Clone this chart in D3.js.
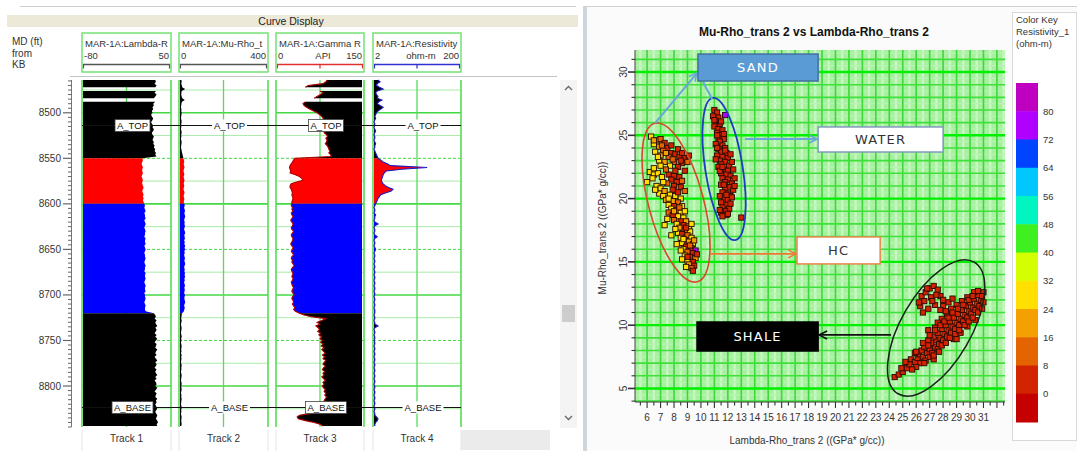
<!DOCTYPE html>
<html>
<head>
<meta charset="utf-8">
<script src="https://cdn.jsdelivr.net/npm/d3@7"></script>
<style>
  body { margin: 0; background: #fff; }
  svg { display: block; font-family: "Liberation Sans", Arial, sans-serif; }
</style>
</head>
<body>
<svg id="chart" width="1077" height="451"></svg>
<script>
// ---------------- Well log data (MAR-1A), sampled every 2 ft from 8464 ft ----------------
const depthTop = 8464;
const depthStep = 2;

// Facies intervals (ft): shale / HC sand / water sand / shale
const zoneTops = [8464, 8550, 8600, 8720, 8846];
const zoneNames = ["Shale", "HC", "Water", "Shale"];

// Lambda-Rho
const lambdaRho = [
  27,28,26,29,27,null,28,26,29,27,25,null,27,24,25,23,24,22,23,21,22,24,23,21,22,24,23,25,24,22,23,25,24,23,25,24,26,25,27,26,28,27,29,
  8,9,8,7,8,9,8,8,9,8,7,8,9,8,8,9,10,9,8,9,10,9,10,9,10,
  11,12,11,12,13,11,12,12,13,11,12,13,12,11,12,13,12,12,11,13,12,12,13,11,12,13,12,11,12,12,
  13,12,11,12,13,12,12,11,13,12,12,13,12,11,12,13,12,12,13,11,12,12,13,12,11,12,13,12,12,13,
  25,27,28,26,29,27,28,30,27,29,28,26,29,27,30,28,26,29,28,27,30,28,27,29,26,28,30,27,29,28,
  26,29,27,28,30,27,29,26,28,29,27,30,28,26,29,28,27,30,28,29,27,28,30,29,27,28,30,29,28,30,31,29,30
];

// Mu-Rho
const muRho = [
  11,12,10,13,14,28,12,11,10,12,15,26,13,11,10,9,11,10,12,11,10,9,11,12,10,11,10,9,11,12,10,11,9,10,12,11,10,9,11,12,14,16,18,
  20,22,24,21,23,25,22,20,23,24,21,22,25,23,21,24,22,20,23,25,22,21,24,23,21,
  24,26,23,25,27,24,26,28,25,23,26,24,27,25,23,26,28,24,25,27,23,26,24,28,25,27,24,26,23,25,
  27,24,26,28,25,23,26,24,27,25,28,24,26,23,25,27,24,26,25,23,27,25,24,26,28,25,23,26,24,22,
  14,12,11,10,12,11,9,10,12,11,10,9,11,12,10,11,9,10,12,11,10,11,9,12,10,11,10,9,11,12,
  10,11,9,10,12,11,10,9,11,12,10,11,12,10,9,11,10,12,11,10,9,11,12,10,11,9,10,12,11,10,11,12,10
];

// Gamma Ray (API)
const gammaRay = [
  87,85,80,55,50,null,75,80,76,70,65,null,50,46,48,52,58,64,70,74,78,
  80,82,84,85,86,84,85,83,82,86,88,85,87,86,84,87,89,90,92,90,93,94,
  32,30,28,26,24,23,24,25,24,33,40,44,46,35,26,24,24,26,27,28,27,28,29,28,27,
  27,26,28,27,29,26,27,29,27,25,27,29,28,26,27,30,28,26,27,29,28,27,25,27,29,28,26,28,30,27,
  26,28,27,29,31,28,26,27,29,28,27,29,28,26,27,28,30,28,27,29,31,28,27,29,30,28,30,32,30,33,
  40,48,60,85,78,70,75,68,72,74,71,76,73,78,75,79,76,80,77,82,78,81,84,79,83,80,85,82,80,84,
  81,79,83,80,82,78,81,84,80,82,79,81,84,82,85,83,86,84,82,84,
  83,82,84,82,80,60,40,36,38,50,65,75,80
];

// Resistivity (ohm-m)
const resistivity = [
  2.6,2.9,2.5,2.4,2.8,3.4,2.5,2.3,2.4,2.6,2.5,3.2,2.7,2.5,2.9,3.4,3.0,2.6,2.4,2.3,
  2.2,2.3,2.2,2.1,2.2,2.2,2.1,2.2,2.3,2.2,2.1,2.2,2.2,2.1,2.2,2.3,2.2,2.2,2.1,2.2,2.3,2.4,2.5,
  2.6,3.0,3.4,4.2,5.0,34,9,4.0,3.6,3.4,3.3,3.2,3.1,3.2,3.4,3.8,4.5,5.7,5.2,3.8,3.0,2.8,2.6,2.5,2.4,
  2.3,2.2,2.1,2.2,2.2,2.1,2.3,2.2,2.2,2.1,2.2,2.6,2.2,2.1,2.2,2.2,2.1,2.2,2.5,2.2,
  2.1,2.2,2.2,2.1,2.2,2.3,2.2,2.1,2.2,2.2,2.1,2.2,2.2,2.1,2.2,2.2,2.1,2.2,2.2,2.1,
  2.2,2.2,2.1,2.2,2.2,2.1,2.2,2.2,2.1,2.2,2.2,2.1,2.2,2.2,2.1,2.2,2.2,2.1,2.2,2.2,
  2.2,2.1,2.2,2.2,2.1,2.2,2.2,2.6,2.2,2.1,2.2,2.2,2.1,2.2,2.2,2.1,2.2,2.2,2.1,2.2,
  2.2,2.1,2.2,2.2,2.1,2.2,2.2,2.1,2.2,2.2,2.1,2.2,2.2,2.1,2.2,2.2,2.1,2.2,2.2,2.1,
  2.2,2.2,2.1,2.2,2.2,2.1,2.2,2.2,2.1,2.2,2.2,2.1,2.2,2.2,2.1,2.2,2.2,2.4,2.6,2.5,2.3,2.2,2.2
];

// Formation tops
const topNames = ["A_TOP", "A_BASE"];
const topDepths = [8513, 8823];

// Depth axis labels
const depthLabels = [8500, 8550, 8600, 8650, 8700, 8750, 8800];

// Track headers
const trackNames = ["Track 1", "Track 2", "Track 3", "Track 4"];
const curveTitles = ["MAR-1A:Lambda-R", "MAR-1A:Mu-Rho_t", "MAR-1A:Gamma R", "MAR-1A:Resistivity"];
const curveMin = [-80, 0, 0, 2];
const curveMax = [50, 400, 150, 200];
const curveUnits = ["", "", "API", "ohm-m"];

// ---------------- Crossplot data: [Lambda-Rho, Mu-Rho, Resistivity_1] ----------------
const waterPoints = [
  [11.0,27.0,4],[11.2,26.8,5],[10.9,26.5,3],[11.3,26.4,6],[11.1,26.1,4],[11.8,26.6,76],[11.4,25.9,5],[11.0,25.7,3],
  [11.3,25.5,4],[11.6,25.4,6],[11.2,25.2,5],[11.5,25.0,3],[11.3,24.8,4],[11.7,24.7,5],[11.4,24.5,6],[11.1,24.3,4],
  [11.6,24.2,3],[11.8,24.0,5],[11.3,23.9,4],[11.5,23.7,6],[11.9,23.6,4],[11.2,23.4,5],[11.6,23.3,3],[12.0,23.2,4],
  [11.4,23.0,5],[11.8,22.9,6],[11.5,22.7,4],[12.1,22.6,3],[11.3,22.5,5],[11.7,22.3,4],[12.0,22.2,6],[11.5,22.0,5],
  [11.9,21.9,4],[12.2,21.8,3],[11.6,21.6,5],[12.0,21.5,4],[11.8,21.3,6],[12.3,21.2,4],[11.5,21.1,5],[12.1,20.9,3],
  [11.8,20.8,5],[12.4,20.7,4],[11.6,20.5,6],[12.0,20.4,4],[12.2,20.2,5],[11.7,20.0,3],[12.0,19.9,4],[11.5,19.7,5],
  [11.9,19.5,6],[11.6,19.3,4],[12.1,19.2,3],[11.8,19.0,5],[11.5,18.9,4],[11.9,18.7,6],[11.6,18.6,4],[13.0,18.5,5],
  [11.2,24.0,5],[12.3,22.9,4],[11.1,23.1,6],[12.5,21.6,5],[11.4,22.2,4],[12.3,20.1,5],
  [11.0,26.2,5],[11.5,26.1,4],[11.2,25.0,6],[11.7,25.1,5],[11.8,23.8,4],[12.2,23.5,5],[11.6,22.5,3],[12.4,22.3,4],
  [11.7,21.1,5],[12.5,21.0,4],[11.9,20.3,6],[11.4,20.2,5],[12.2,19.6,4],[11.4,19.1,5],[12.0,18.8,4]
];
const hcPoints = [
  [6.3,24.9,28],[6.7,24.6,18],[7.0,24.7,10],[7.3,24.4,6],[6.5,24.3,26],[6.9,24.1,20],[7.5,24.0,4],[7.2,23.8,12],
  [6.6,23.7,30],[7.8,23.6,6],[8.1,23.5,5],[7.0,23.4,22],[7.6,23.3,14],[8.4,23.3,4],[8.8,23.2,6],[6.9,23.0,28],
  [7.3,22.9,18],[8.0,22.9,8],[8.6,22.8,5],[9.0,22.9,10],[7.7,22.6,24],[8.3,22.5,6],
  [6.2,22.1,30],[6.5,21.9,28],[6.8,22.0,26],[7.1,21.7,30],[6.4,21.6,29],[7.6,21.9,4],[8.0,21.8,3],[8.4,21.7,5],
  [7.8,21.5,6],[8.2,21.3,4],[8.6,21.4,8],[7.5,21.2,10],[8.0,21.0,5],[8.5,20.9,4],[7.9,20.7,6],[6.7,21.0,28],
  [7.0,20.8,30],[6.9,20.4,26],[7.3,20.6,20],
  [7.2,20.2,24],[7.7,20.3,28],[8.1,20.2,30],[8.5,20.0,26],[7.4,19.9,18],[7.9,19.8,22],[8.3,19.7,12],[7.6,19.5,28],
  [8.0,19.4,6],[8.6,19.4,24],[7.8,19.2,30],[8.2,19.1,20],[7.6,18.9,14],[8.5,18.9,28],
  [7.9,18.7,4],[8.3,18.6,26],[8.7,18.5,30],[8.0,18.3,10],[8.5,18.2,5],[8.9,18.2,22],[8.2,18.0,28],[8.7,17.9,3],
  [9.1,17.8,26],[8.4,17.7,18],[8.8,17.5,8],[9.2,17.4,28],[8.3,17.3,30],[8.6,17.2,4],[9.0,17.1,14],[8.5,16.9,26],
  [9.3,16.9,30],
  [8.8,16.7,3],[9.1,16.6,20],[8.6,16.5,28],[9.4,16.4,24],[8.9,16.2,5],[9.3,16.1,4],[8.7,16.0,30],[9.6,15.9,78],
  [9.0,15.8,12],[9.4,15.7,4],[8.8,15.5,26],[9.2,15.4,6],[9.6,15.3,20],[9.0,15.1,28],[9.4,15.0,3],[9.1,14.8,18],
  [9.5,14.7,4],[9.3,14.5,8],
  [6.5,24.6,22],[7.1,24.2,8],[7.8,24.2,5],[8.3,23.9,4],[8.6,23.6,7],[9.1,23.4,5],[7.4,23.6,20],[6.8,23.3,30],
  [7.9,23.1,10],[8.5,23.0,4],[7.0,22.6,26],[7.4,22.3,14],[8.1,22.2,5],[8.8,22.2,4],[6.5,22.4,30],[6.0,21.3,28],
  [6.6,20.7,30],[7.2,21.3,26],[8.3,20.5,6],[8.8,20.6,9],[7.6,20.0,24],[8.0,19.0,18],[8.4,19.3,10],[8.8,19.0,26],
  [7.5,18.4,28],[8.1,17.6,26],[8.9,17.7,5],[9.3,18.0,28],[8.7,16.8,30],[9.2,16.3,12],[8.5,15.9,26],[9.0,15.4,4],
  [9.5,16.7,22],[8.9,14.6,28],[9.4,14.3,6],[9.7,15.6,4],[8.6,15.2,30],[7.3,17.9,28],[7.8,17.1,30],[8.2,16.4,28]
];
const shalePoints = [
  [24.4,5.9,5],[24.7,6.1,4],[25.0,6.3,6],[25.3,6.6,5],[24.9,6.6,4],
  [25.6,7.3,5],[25.9,7.1,4],[26.1,7.4,6],[26.3,7.0,5],[26.2,7.7,4],[26.5,7.5,3],[26.7,7.2,5],[26.4,8.0,6],
  [26.8,7.8,4],[27.0,7.5,5],[26.6,8.3,4],[27.0,8.1,6],[27.2,7.8,5],[27.4,8.3,3],[27.1,8.6,5],[26.9,8.8,4],
  [27.5,8.8,6],[27.7,8.5,4],[27.3,9.1,5],[27.8,9.0,5],[28.0,8.8,4],[27.6,9.4,6],[28.1,9.3,5],[28.3,9.1,4],
  [27.9,9.7,5],[28.4,9.6,3],[28.6,9.4,5],[28.2,10.0,4],[28.7,9.9,6],[28.9,9.7,5],[28.5,10.3,4],[29.0,10.2,5],
  [29.2,10.0,6],[28.8,10.6,4],[29.3,10.5,5],[29.5,10.3,3],[29.1,10.9,5],[29.6,10.8,4],[29.8,10.6,6],[29.4,11.2,5],
  [29.9,11.1,4],[30.1,10.9,5],[29.7,11.5,6],[30.2,11.4,4],[30.4,11.2,5],[30.0,11.8,3],[30.5,11.7,5],[30.7,11.5,4],
  [30.3,12.1,6],[30.8,12.0,5],[31.0,11.8,4],[30.6,12.4,5],[31.0,12.6,6],[30.3,12.6,4],[29.8,12.2,5],[29.4,11.9,4],
  [29.0,11.6,6],[28.6,11.3,5],[28.3,10.9,4],[27.9,10.5,5],[28.0,11.5,3],[28.4,11.8,5],[27.6,10.2,4],[29.3,9.4,6],
  [29.8,9.9,5],[30.4,10.4,4],[28.8,8.9,5],[27.3,7.3,4],[26.0,6.7,5],[25.5,6.9,4],
  [26.4,12.3,5],[26.7,12.6,4],[27.0,12.9,6],[27.3,13.1,5],[27.6,12.8,4],[26.6,11.9,5],[27.1,12.2,4],[26.3,11.5,6],
  [26.9,11.3,5],[27.4,11.6,4],[27.8,11.2,5],[28.2,11.1,4],[26.5,11.0,5],
  [27.4,9.8,5],[26.5,8.6,4],[25.9,7.8,6],[26.9,9.6,5],
  [26.0,7.9,5],[26.6,7.0,4],[26.9,8.4,5],[27.3,7.6,6],[27.0,9.2,4],[27.6,8.1,5],[27.9,8.4,4],[27.4,9.6,5],
  [28.2,8.6,6],[27.8,10.0,4],[28.5,9.0,5],[28.1,10.3,5],[28.9,9.3,4],[28.4,10.6,6],[29.2,9.6,5],[28.7,11.0,4],
  [29.6,10.0,5],[29.1,11.3,6],[29.9,10.3,4],[29.5,11.6,5],[30.2,10.6,5],[29.9,12.0,4],[30.6,11.0,6],[30.2,12.3,5],
  [30.9,11.3,4],[30.6,12.7,5],[30.9,12.3,4],[28.7,12.1,5],[27.8,12.3,4],[27.2,11.9,5],[26.8,12.9,6],[27.5,12.4,4],
  [28.0,12.0,5],[26.2,11.8,4],[27.7,7.9,5],[29.0,8.9,4],[25.7,6.5,5],[25.2,7.1,4]
];

// Colour key classes for Resistivity_1
const keyBreaks = [0, 8, 16, 24, 32, 40, 48, 56, 64, 72, 80];
const keyColors = ["#c40000", "#d22400", "#e46400", "#f4a000", "#ffe000", "#d4ff00",
                   "#3ff020", "#00f5c0", "#00c8ff", "#0044ff", "#b000ff", "#c000c0"];

// Axis ticks
const xTickValues = d3.range(6, 32);
const yTickValues = [5, 10, 15, 20, 25, 30];

// ============================================================
const svg = d3.select("#chart");
svg.append("rect").attr("width", 1077).attr("height", 451).attr("fill", "#fff");
const defs = svg.append("defs");

// ---------------- Log display panel ----------------
const logPanel = svg.append("g");
logPanel.append("line").attr("x1", 20).attr("x2", 576).attr("y1", 6.5).attr("y2", 6.5)
  .attr("stroke", "#cfcfcf");
logPanel.append("rect").attr("x", 7).attr("y", 15).attr("width", 571).attr("height", 12).attr("fill", "#ece9d8");
logPanel.append("text").attr("x", 291).attr("y", 24.5).attr("text-anchor", "middle")
  .attr("font-size", 10.5).attr("fill", "#222").text("Curve Display");

["MD (ft)", "from", "KB"].forEach((s, i) => {
  logPanel.append("text").attr("x", 12).attr("y", 45 + i * 11.5).attr("font-size", 10)
    .attr("fill", "#333").text(s);
});

const trackX = [[82, 171], [179, 268], [276, 364], [373, 461]];
const headTop = 33, headBottom = 72;
const plotTop = 80, plotBottom = 427;

const yD = d3.scaleLinear().domain([8464, 8845]).range([plotTop, plotBottom]);
const depths = lambdaRho.map((_, i) => depthTop + i * depthStep);

const curves = [lambdaRho, muRho, gammaRay, resistivity];
const scaleTypes = ["linear", "linear", "linear", "log"];
const fillSide = ["left", "left", "right", "left"];
const curveStroke = [null, null, "#b40000", "#1a1ac8"];
const headerLine = ["#555", "#555", "#e03030", "#3030d0"];
const zoneFill = { Shale: "#000", HC: "#ff0000", Water: "#0000ff" };
const gridGreen = "#55dd55";

// Track header boxes
trackX.forEach(([x0, x1], i) => {
  const g = logPanel.append("g");
  g.append("rect").attr("x", x0).attr("y", headTop).attr("width", x1 - x0).attr("height", headBottom - headTop)
    .attr("fill", "#fff").attr("stroke", "#74e074").attr("stroke-width", 1.5);
  g.append("text").attr("x", x0 + 3).attr("y", 47).attr("font-size", 9.5).attr("fill", "#333").text(curveTitles[i]);
  g.append("text").attr("x", x0 + 2).attr("y", 59).attr("font-size", 9.5).attr("fill", "#333").text(curveMin[i]);
  g.append("text").attr("x", x1 - 2).attr("y", 59).attr("font-size", 9.5).attr("text-anchor", "end")
    .attr("fill", "#333").text(curveMax[i]);
  if (curveUnits[i]) {
    g.append("text").attr("x", (x0 + x1) / 2 + (i === 2 ? 3 : 4)).attr("y", 59).attr("font-size", 9.5)
      .attr("text-anchor", "middle").attr("fill", "#333").text(curveUnits[i]);
  }
  const c = headerLine[i];
  g.append("line").attr("x1", x0 + 1).attr("x2", x1 - 1).attr("y1", 64.5).attr("y2", 64.5).attr("stroke", c).attr("stroke-width", 1.3);
  const tks = [x0 + 1.5, x1 - 1.5];
  if (i >= 2) tks.push((x0 + x1) / 2);
  tks.forEach(tx => g.append("line").attr("x1", tx).attr("x2", tx).attr("y1", 64.5).attr("y2", 68.5)
    .attr("stroke", c).attr("stroke-width", 1.2));
});

logPanel.append("line").attr("x1", 70).attr("x2", 557).attr("y1", 76.5).attr("y2", 76.5).attr("stroke", "#c4c4c4");

// Depth axis
const depthAxisX = 71.5;
logPanel.append("line").attr("x1", depthAxisX).attr("x2", depthAxisX).attr("y1", plotTop).attr("y2", plotBottom)
  .attr("stroke", "#777");
d3.range(8465, 8846, 5).forEach(d => {
  const major = d % 50 === 0;
  logPanel.append("line").attr("x1", major ? 63 : 68).attr("x2", depthAxisX).attr("y1", yD(d)).attr("y2", yD(d))
    .attr("stroke", "#666").attr("stroke-width", major ? 1.2 : 1);
});
depthLabels.forEach(d => {
  logPanel.append("text").attr("x", 61).attr("y", yD(d) + 3.5).attr("text-anchor", "end")
    .attr("font-size", 10).attr("fill", "#333").text(d);
});

// Track grids, fills and curves
const gridDepths = d3.range(8475, 8845, 25);
trackX.forEach(([x0, x1], i) => {
  const g = logPanel.append("g");
  gridDepths.forEach(d => {
    const y = yD(d);
    const bold = d % 100 === 0, dashed = !bold && d % 50 === 0;
    g.append("line").attr("x1", x0).attr("x2", x1).attr("y1", y).attr("y2", y)
      .attr("stroke", bold || dashed ? "#44d844" : "#a8eca8")
      .attr("stroke-width", bold ? 1.6 : 1)
      .attr("stroke-dasharray", dashed ? "3,2" : null);
  });
  [x0, (x0 + x1) / 2, x1].forEach((vx, k) => {
    g.append("line").attr("x1", vx).attr("x2", vx).attr("y1", plotTop).attr("y2", plotBottom)
      .attr("stroke", gridGreen).attr("stroke-width", k === 1 ? 1.3 : 1.6);
  });

  const xs = (scaleTypes[i] === "log" ? d3.scaleLog() : d3.scaleLinear())
    .domain([curveMin[i], curveMax[i]]).range([x0, x1]).clamp(true);
  const data = curves[i].map((v, k) => ({ d: depths[k], v }));
  const area = d3.area().defined(p => p.v != null).y(p => yD(p.d));
  if (fillSide[i] === "left") area.x0(x0 + 1).x1(p => xs(p.v));
  else area.x0(p => xs(p.v)).x1(x1 - 2);

  zoneNames.forEach((z, zi) => {
    const id = `clip-${i}-${zi}`;
    defs.append("clipPath").attr("id", id).append("rect")
      .attr("x", x0).attr("width", x1 - x0)
      .attr("y", yD(zoneTops[zi])).attr("height", yD(Math.min(zoneTops[zi + 1], 8845)) - yD(zoneTops[zi]));
    g.append("path").datum(data).attr("d", area).attr("fill", zoneFill[z]).attr("clip-path", `url(#${id})`);
  });
  if (curveStroke[i]) {
    const line = d3.line().defined(p => p.v != null).x(p => xs(p.v)).y(p => yD(p.d));
    g.append("path").datum(data).attr("d", line).attr("fill", "none")
      .attr("stroke", curveStroke[i]).attr("stroke-width", 1.1);
  }
});

// Formation tops
topNames.forEach((name, k) => {
  const y = Math.round(yD(topDepths[k])) + 0.5;
  logPanel.append("line").attr("x1", trackX[0][0]).attr("x2", trackX[3][1]).attr("y1", y).attr("y2", y)
    .attr("stroke", "#111").attr("stroke-width", 1);
  trackX.forEach(([x0, x1], i) => {
    const cx = (x0 + x1) / 2 + 6;
    const t = logPanel.append("text").attr("x", cx).attr("y", y + 3.5).attr("text-anchor", "middle")
      .attr("font-size", 9.5).attr("fill", "#111").text(name);
    const w = t.node().getComputedTextLength() + 4;
    logPanel.insert("rect", () => t.node())
      .attr("x", cx - w / 2).attr("y", y - 6).attr("width", w).attr("height", 12)
      .attr("fill", "#fff").attr("stroke", i % 2 === 0 ? "#444" : "none").attr("stroke-width", 0.8);
  });
});

// Track footers
trackX.forEach(([x0, x1], i) => {
  logPanel.append("line").attr("x1", x0).attr("x2", x0).attr("y1", 430).attr("y2", 451).attr("stroke", "#e4e4e4");
  logPanel.append("line").attr("x1", x1).attr("x2", x1).attr("y1", 430).attr("y2", 451).attr("stroke", "#e4e4e4");
  logPanel.append("text").attr("x", (x0 + x1) / 2).attr("y", 442).attr("text-anchor", "middle")
    .attr("font-size", 10).attr("fill", "#333").text(trackNames[i]);
});
logPanel.append("rect").attr("x", 461).attr("y", 430).attr("width", 89).attr("height", 20).attr("fill", "#ebebeb");

// Scroll bar
logPanel.append("rect").attr("x", 560).attr("y", plotTop).attr("width", 17).attr("height", plotBottom - plotTop + 1)
  .attr("fill", "#f4f4f4");
logPanel.append("rect").attr("x", 562).attr("y", 305).attr("width", 13).attr("height", 17).attr("fill", "#cdcdcd");
logPanel.append("path").attr("d", "M565,90 L568.5,86.5 L572,90").attr("fill", "none").attr("stroke", "#666").attr("stroke-width", 1.3);
logPanel.append("path").attr("d", "M565,416 L568.5,419.5 L572,416").attr("fill", "none").attr("stroke", "#666").attr("stroke-width", 1.3);

// ---------------- Crossplot panel ----------------
const xp = svg.append("g");
xp.append("rect").attr("x", 583).attr("y", 7).attr("width", 494).attr("height", 444).attr("fill", "#fbfbfb");
xp.append("rect").attr("x", 583).attr("y", 7).attr("width", 4).attr("height", 444).attr("fill", "#cdd5dd");
xp.append("line").attr("x1", 583).attr("x2", 1077).attr("y1", 6.5).attr("y2", 6.5).attr("stroke", "#cfcfcf");

xp.append("text").attr("x", 814).attr("y", 36).attr("text-anchor", "middle").attr("font-size", 12)
  .attr("font-weight", "bold").attr("fill", "#111").text("Mu-Rho_trans 2 vs Lambda-Rho_trans 2");

const xX = d3.scaleLinear().domain([5.1, 32.6]).range([635, 1005]);
const yX = d3.scaleLinear().domain([3.93, 31.74]).range([402, 50]);
const [px0, px1] = xX.range();
const [py1, py0] = yX.range();

// Grid
xp.append("rect").attr("x", px0).attr("y", py0).attr("width", px1 - px0).attr("height", py1 - py0).attr("fill", "#a6f0a0");
d3.range(5.5, 32.6, 1).forEach(v => {
  xp.append("line").attr("x1", xX(v)).attr("x2", xX(v)).attr("y1", py0).attr("y2", py1)
    .attr("stroke", "#c6f8c0").attr("stroke-width", 2.5);
});
d3.range(4.5, 31.6, 1).forEach(v => {
  xp.append("line").attr("x1", px0).attr("x2", px1).attr("y1", yX(v)).attr("y2", yX(v))
    .attr("stroke", "#b8f3b2").attr("stroke-width", 1.2);
});
d3.range(6, 33, 1).forEach(v => {
  xp.append("line").attr("x1", xX(v)).attr("x2", xX(v)).attr("y1", py0).attr("y2", py1)
    .attr("stroke", "#3ed83a").attr("stroke-width", 1.6);
});
d3.range(4, 32, 1).forEach(v => {
  xp.append("line").attr("x1", px0).attr("x2", px1).attr("y1", yX(v)).attr("y2", yX(v))
    .attr("stroke", v % 5 === 0 ? "#00f000" : "#3ee03a").attr("stroke-width", v % 5 === 0 ? 2.4 : 1.6);
});

// Axes
xp.append("line").attr("x1", px0).attr("x2", px0).attr("y1", py0).attr("y2", py1).attr("stroke", "#444");
xp.append("line").attr("x1", px0).attr("x2", px1).attr("y1", py1).attr("y2", py1).attr("stroke", "#444");
d3.range(5.5, 32.6, 0.5).forEach(v => {
  const major = Number.isInteger(v);
  xp.append("line").attr("x1", xX(v)).attr("x2", xX(v)).attr("y1", py1).attr("y2", py1 + (major ? 6 : 3.5))
    .attr("stroke", "#333").attr("stroke-width", 1.1);
});
xTickValues.forEach(v => {
  xp.append("text").attr("x", xX(v)).attr("y", 421).attr("text-anchor", "middle").attr("font-size", 10)
    .attr("fill", "#333").text(v);
});
d3.range(4, 32, 1).forEach(v => {
  const major = v % 5 === 0;
  xp.append("line").attr("x1", px0 - (major ? 7 : 3.5)).attr("x2", px0).attr("y1", yX(v)).attr("y2", yX(v))
    .attr("stroke", "#333").attr("stroke-width", major ? 1.6 : 1.1);
});
yTickValues.forEach(v => {
  xp.append("text").attr("transform", `translate(623,${yX(v)}) rotate(-90)`).attr("text-anchor", "middle")
    .attr("dy", "0.35em").attr("font-size", 10).attr("fill", "#333").text(v);
});
xp.append("text").attr("transform", "translate(602,228) rotate(-90)").attr("text-anchor", "middle")
  .attr("dy", "0.35em").attr("font-size", 10).attr("fill", "#333").text("Mu-Rho_trans 2 ((GPa* g/cc))");
xp.append("text").attr("x", 807).attr("y", 444).attr("text-anchor", "middle").attr("font-size", 10)
  .attr("fill", "#333").text("Lambda-Rho_trans 2 ((GPa* g/cc))");

// Points
const resColor = d3.scaleThreshold().domain(keyBreaks).range(keyColors);
const allPoints = waterPoints.concat(hcPoints, shalePoints);
xp.append("g").selectAll("rect").data(allPoints).join("rect")
  .attr("x", d => xX(d[0]) - 2.6).attr("y", d => yX(d[1]) - 2.6).attr("width", 5.2).attr("height", 5.2)
  .attr("fill", d => resColor(d[2])).attr("stroke", "#2a0800").attr("stroke-width", 0.9);

// Cluster outlines
const ellipses = [
  { cx: 8.15, cy: 19.69, rx: 82, ry: 27.5, angle: 75, color: "#d8482c", w: 1.6 },
  { cx: 11.72, cy: 22.34, rx: 72, ry: 18.7, angle: 81, color: "#1c3cc4", w: 1.8 },
  { cx: 27.48, cy: 9.78, rx: 76, ry: 35, angle: -60, color: "#152515", w: 1.5 }
];
ellipses.forEach(e => {
  xp.append("ellipse").attr("cx", 0).attr("cy", 0).attr("rx", e.rx).attr("ry", e.ry)
    .attr("transform", `translate(${xX(e.cx)},${yX(e.cy)}) rotate(${e.angle})`)
    .attr("fill", "none").attr("stroke", e.color).attr("stroke-width", e.w);
});

// Arrow markers
function marker(id, color) {
  defs.append("marker").attr("id", id).attr("viewBox", "0 0 10 10").attr("refX", 9).attr("refY", 5)
    .attr("markerWidth", 10).attr("markerHeight", 10).attr("markerUnits", "userSpaceOnUse").attr("orient", "auto")
    .append("path").attr("d", "M1,1 L9,5 L1,9").attr("fill", "none").attr("stroke", color).attr("stroke-width", 1.6);
}
marker("arrBlue", "#6aa6dc");
marker("arrOrange", "#ee7a30");
marker("arrBlack", "#111");

function arrow(x1, y1, x2, y2, color, w, mk) {
  xp.append("line").attr("x1", xX(x1)).attr("y1", yX(y1)).attr("x2", xX(x2)).attr("y2", yX(y2))
    .attr("stroke", color).attr("stroke-width", w).attr("marker-end", mk ? `url(#${mk})` : null);
}
arrow(6.59, 25.97, 9.71, 29.92, "#6aa6dc", 2, "arrBlue");
arrow(10.16, 29.21, 10.83, 27.87, "#6aa6dc", 2, null);
arrow(13.28, 24.71, 18.63, 24.71, "#6aa6dc", 2, "arrBlue");
arrow(10.68, 15.63, 17.07, 15.63, "#ee7a30", 1.6, "arrOrange");
arrow(24.13, 9.23, 18.78, 9.23, "#111", 1.6, "arrBlack");

// Facies labels
function labelBox(x1, y1, x2, y2, text, fill, stroke, color) {
  const bx = xX(x1), by = yX(y1), bw = xX(x2) - xX(x1), bh = yX(y2) - yX(y1);
  xp.append("rect").attr("x", bx).attr("y", by).attr("width", bw).attr("height", bh)
    .attr("fill", fill).attr("stroke", stroke).attr("stroke-width", 1.5);
  xp.append("text").attr("x", bx + bw / 2).attr("y", by + bh / 2).attr("dy", "0.36em").attr("text-anchor", "middle")
    .attr("font-family", "DejaVu Sans, Verdana, sans-serif").attr("font-size", 13).attr("letter-spacing", 1.2)
    .attr("fill", color).text(text);
}
labelBox(9.78, 31.42, 18.71, 29.29, "SAND", "#5b9bd5", "#41719c", "#fff");
labelBox(18.71, 25.66, 28.0, 23.68, "WATER", "#fff", "#7f9cbc", "#333");
labelBox(17.14, 16.97, 23.32, 14.84, "HC", "#fff", "#e8864a", "#333");
labelBox(9.71, 10.25, 18.71, 7.96, "SHALE", "#000", "#000", "#fff");

// Colour key
const key = svg.append("g");
key.append("rect").attr("x", 1012.5).attr("y", 12.5).attr("width", 64).attr("height", 428).attr("fill", "#fff")
  .attr("stroke", "#d8d8d8");
["Color Key", "Resistivity_1", "(ohm-m)"].forEach((s, i) => {
  key.append("text").attr("x", 1016).attr("y", 23 + i * 12).attr("font-size", 9.5).attr("fill", "#333").text(s);
});
const keyTop = 83, keyStep = 28.25, keyX = 1016, keyW = 22;
keyColors.slice().reverse().forEach((c, i) => {
  key.append("rect").attr("x", keyX).attr("y", keyTop + i * keyStep).attr("width", keyW).attr("height", keyStep + 0.5)
    .attr("fill", c);
});
keyBreaks.slice().reverse().forEach((b, i) => {
  key.append("text").attr("x", keyX + keyW + 5).attr("y", keyTop + (i + 1) * keyStep + 3.5).attr("font-size", 9.5)
    .attr("fill", "#333").text(b);
});
</script>
</body>
</html>
